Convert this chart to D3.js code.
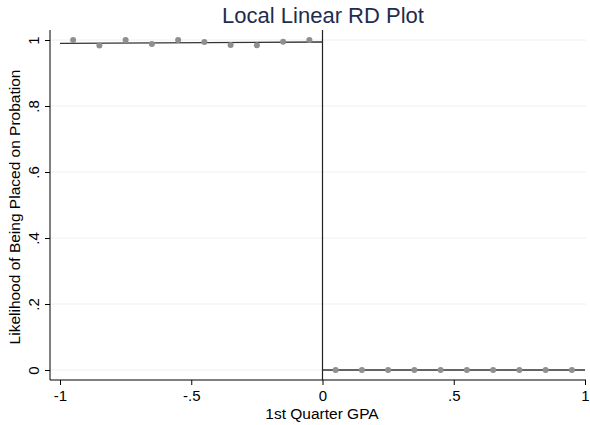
<!DOCTYPE html>
<html>
<head>
<meta charset="utf-8">
<script src="https://cdn.jsdelivr.net/npm/d3@7"></script>
<style>
  body { margin: 0; background: #fff; }
  text { font-family: "Liberation Sans", Arial, sans-serif; }
</style>
</head>
<body>
<script>
// binned means, left and right of the cutoff
var binsLeft = [-0.95, -0.85, -0.75, -0.65, -0.55, -0.45, -0.35, -0.25, -0.15, -0.05];
var meansLeft = [1, 0.983, 1, 0.988, 1, 0.994, 0.985, 0.984, 0.995, 1];
var binsRight = [0.05, 0.15, 0.25, 0.35, 0.45, 0.55, 0.65, 0.75, 0.85, 0.95];
var meansRight = [0, 0, 0, 0, 0, 0, 0, 0, 0, 0];
// local linear fit endpoints
var fitLeft = [[-1, 0.99], [0, 0.994]];
var fitRight = [[0, 0], [1, 0]];
var xTicks = [-1, -0.5, 0, 0.5, 1];
var xTickLabels = ["-1", "-.5", "0", ".5", "1"];
var yTicks = [0, 0.2, 0.4, 0.6, 0.8, 1];
var yTickLabels = ["0", ".2", ".4", ".6", ".8", "1"];

var W = 590, H = 425;
var svg = d3.select("body").append("svg").attr("width", W).attr("height", H);

var x = d3.scaleLinear().domain([-1, 1]).range([60, 585]);
var y = d3.scaleLinear().domain([0, 1]).range([370, 40]);
var plotLeft = 50, plotRight = 586, plotTop = 30, plotBottom = 380;

// gridlines
svg.selectAll("line.grid").data(yTicks).enter().append("line")
  .attr("x1", plotLeft).attr("x2", plotRight)
  .attr("y1", d => y(d)).attr("y2", d => y(d))
  .attr("stroke", "#eaf2f3").attr("stroke-width", 1);

// axes
var yAxis = d3.axisLeft(y).tickValues(yTicks).tickSize(5).tickPadding(4)
  .tickFormat((d, i) => yTickLabels[i]);
var gy = svg.append("g").attr("transform", "translate(" + plotLeft + ",0)").call(yAxis);
gy.select(".domain").attr("d", "M0," + plotTop + "V" + plotBottom).attr("stroke", "#000");
gy.selectAll(".tick line").attr("stroke", "#000");
gy.selectAll(".tick text")
  .attr("font-size", 15).attr("fill", "#000")
  .attr("transform", "rotate(-90,-11,0)")
  .attr("x", -11).attr("dy", "0").attr("text-anchor", "middle");

var xAxis = d3.axisBottom(x).tickValues(xTicks).tickSize(5).tickPadding(5)
  .tickFormat((d, i) => xTickLabels[i]);
var gx = svg.append("g").attr("transform", "translate(0," + plotBottom + ")").call(xAxis);
gx.select(".domain").attr("d", "M" + plotLeft + ",0H" + plotRight).attr("stroke", "#000");
gx.selectAll(".tick line").attr("stroke", "#000");
gx.selectAll(".tick text").attr("font-size", 15).attr("fill", "#000").attr("y", 10);

// cutoff line
svg.append("line")
  .attr("x1", x(0)).attr("x2", x(0)).attr("y1", plotTop).attr("y2", plotBottom)
  .attr("stroke", "#222").attr("stroke-width", 1.2);

// fitted lines
var line = d3.line().x(d => x(d[0])).y(d => y(d[1]));
[fitLeft, fitRight].forEach(function(f) {
  svg.append("path").attr("d", line(f)).attr("fill", "none")
    .attr("stroke", "#333").attr("stroke-width", 1.3);
});

// dots
var pts = binsLeft.map((b, i) => [b, meansLeft[i]])
  .concat(binsRight.map((b, i) => [b, meansRight[i]]));
svg.selectAll("circle").data(pts).enter().append("circle")
  .attr("cx", d => x(d[0])).attr("cy", d => y(d[1])).attr("r", 3)
  .attr("fill", "#8f8f8f");

// titles
svg.append("text").attr("x", 323).attr("y", 23).attr("text-anchor", "middle")
  .attr("font-size", 22).attr("fill", "#1e2d4f").text("Local Linear RD Plot");
svg.append("text").attr("x", 322).attr("y", 419).attr("text-anchor", "middle")
  .attr("font-size", 15.5).attr("fill", "#000").text("1st Quarter GPA");
svg.append("text").attr("transform", "translate(20,207) rotate(-90)")
  .attr("text-anchor", "middle").attr("font-size", 15.5).attr("fill", "#000")
  .text("Likelihood of Being Placed on Probation");
</script>
</body>
</html>
